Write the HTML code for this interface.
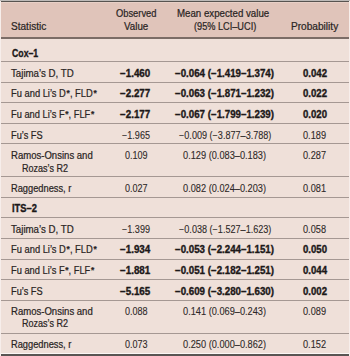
<!DOCTYPE html>
<html><head><meta charset="utf-8">
<style>
html,body{margin:0;padding:0;}
body{width:350px;height:356px;background:#fff;position:relative;overflow:hidden;font-family:"Liberation Sans",sans-serif;}
.a{position:absolute;}
.s{font-size:9px;font-weight:bold;position:relative;top:-1px;margin-left:0.8px;}
.hl{position:absolute;left:1px;width:348px;height:1px;background:#a59893;}
.t{position:absolute;font-size:10px;line-height:12px;white-space:nowrap;transform-origin:0 0;color:#2a2524;-webkit-text-stroke:0.22px #2a2524;}
.n{color:#2e2928;-webkit-text-stroke:0.1px #2e2928;}
.b{font-weight:bold;color:#1c1818;-webkit-text-stroke:0.35px #1c1818;}
</style></head><body>
<div class="a" style="left:0;top:0;width:350px;height:356px;background:#f7eeeb"></div>
<div class="a" style="left:0;top:0;width:350px;height:1px;background:#bdbab8"></div>
<div class="a" style="left:1px;top:1px;width:348px;height:1px;background:#575350"></div>
<div class="a" style="left:1px;top:2px;width:348px;height:35px;background:#e0c4ba"></div>
<div class="a" style="left:1px;top:2px;width:348px;height:1px;background:#e8d0c7"></div>
<div class="a" style="left:1px;top:37px;width:348px;height:2px;background:#7b6c66"></div>
<div class="a" style="left:1px;top:39px;width:348px;height:314px;background:#efe0d9"></div>
<div class="a" style="left:1px;top:353px;width:348px;height:1px;background:#fbf7f5"></div>
<div class="a" style="left:1px;top:354px;width:348px;height:2px;background:#595553"></div>
<div class="hl" style="top:61px"></div>
<div class="hl" style="top:82px"></div>
<div class="hl" style="top:102px"></div>
<div class="hl" style="top:123px"></div>
<div class="hl" style="top:143px"></div>
<div class="hl" style="top:176px"></div>
<div class="hl" style="top:197px"></div>
<div class="hl" style="top:217px"></div>
<div class="hl" style="top:238px"></div>
<div class="hl" style="top:259px"></div>
<div class="hl" style="top:279px"></div>
<div class="hl" style="top:300px"></div>
<div class="hl" style="top:333px"></div>
<div class="t" style="left:11.40px;top:21px;transform:scaleX(1.006)">Statistic</div>
<div class="t" style="left:115.90px;top:8px;transform:scaleX(0.933)">Observed</div>
<div class="t" style="left:123.60px;top:21px;transform:scaleX(0.976)">Value</div>
<div class="t" style="left:177.03px;top:8px;transform:scaleX(0.970)">Mean expected value</div>
<div class="t" style="left:194.00px;top:21px;transform:scaleX(0.918)">(95% LCI–UCI)</div>
<div class="t" style="left:290.89px;top:21px;transform:scaleX(1.011)">Probability</div>
<div class="t b" style="left:11.90px;top:48px;transform:scaleX(0.873)">Cox–1</div>
<div class="t b" style="left:11.90px;top:203px;transform:scaleX(0.931)">ITS–2</div>
<div class="t" style="left:11.30px;top:68px;transform:scaleX(0.969)">Tajima’s D, TD</div>
<div class="t b" style="left:120.30px;top:68px;transform:scaleX(0.981)">−1.460</div>
<div class="t b" style="left:175.10px;top:68px;transform:scaleX(0.973)">−0.064 (−1.419–1.374)</div>
<div class="t b" style="left:302.90px;top:68px;transform:scaleX(0.960)">0.042</div>
<div class="t" style="left:10.97px;top:88px;transform:scaleX(0.934)">Fu and Li’s D<span class=s>*</span>, FLD<span class=s>*</span></div>
<div class="t b" style="left:120.30px;top:88px;transform:scaleX(0.981)">−2.277</div>
<div class="t b" style="left:175.10px;top:88px;transform:scaleX(0.973)">−0.063 (−1.871–1.232)</div>
<div class="t b" style="left:302.90px;top:88px;transform:scaleX(0.960)">0.022</div>
<div class="t" style="left:10.97px;top:109px;transform:scaleX(0.930)">Fu and Li’s F<span class=s>*</span>, FLF<span class=s>*</span></div>
<div class="t b" style="left:120.30px;top:109px;transform:scaleX(0.981)">−2.177</div>
<div class="t b" style="left:175.10px;top:109px;transform:scaleX(0.973)">−0.067 (−1.799–1.239)</div>
<div class="t b" style="left:302.90px;top:109px;transform:scaleX(0.960)">0.020</div>
<div class="t" style="left:10.98px;top:130px;transform:scaleX(0.921)">Fu’s FS</div>
<div class="t n" style="left:121.70px;top:130px;transform:scaleX(0.906)">−1.965</div>
<div class="t n" style="left:179.15px;top:130px;transform:scaleX(0.908)">−0.009 (−3.877–3.788)</div>
<div class="t n" style="left:303.40px;top:130px;transform:scaleX(0.920)">0.189</div>
<div class="t" style="left:11.05px;top:150px;transform:scaleX(0.955)">Ramos-Onsins and</div>
<div class="t" style="left:21.90px;top:163px;transform:scaleX(0.902)">Rozas’s R2</div>
<div class="t n" style="left:124.70px;top:150px;transform:scaleX(0.904)">0.109</div>
<div class="t n" style="left:183.30px;top:150px;transform:scaleX(0.922)">0.129 (0.083–0.183)</div>
<div class="t n" style="left:303.40px;top:150px;transform:scaleX(0.920)">0.287</div>
<div class="t" style="left:10.97px;top:183px;transform:scaleX(0.928)">Raggedness, r</div>
<div class="t n" style="left:124.70px;top:183px;transform:scaleX(0.904)">0.027</div>
<div class="t n" style="left:183.30px;top:183px;transform:scaleX(0.922)">0.082 (0.024–0.203)</div>
<div class="t n" style="left:303.40px;top:183px;transform:scaleX(0.920)">0.081</div>
<div class="t" style="left:11.30px;top:224px;transform:scaleX(0.969)">Tajima’s D, TD</div>
<div class="t n" style="left:121.70px;top:224px;transform:scaleX(0.906)">−1.399</div>
<div class="t n" style="left:179.15px;top:224px;transform:scaleX(0.908)">−0.038 (−1.527–1.623)</div>
<div class="t n" style="left:303.40px;top:224px;transform:scaleX(0.920)">0.058</div>
<div class="t" style="left:10.97px;top:244px;transform:scaleX(0.934)">Fu and Li’s D<span class=s>*</span>, FLD<span class=s>*</span></div>
<div class="t b" style="left:120.30px;top:244px;transform:scaleX(0.981)">−1.934</div>
<div class="t b" style="left:175.10px;top:244px;transform:scaleX(0.973)">−0.053 (−2.244–1.151)</div>
<div class="t b" style="left:302.90px;top:244px;transform:scaleX(0.960)">0.050</div>
<div class="t" style="left:10.97px;top:265px;transform:scaleX(0.930)">Fu and Li’s F<span class=s>*</span>, FLF<span class=s>*</span></div>
<div class="t b" style="left:120.30px;top:265px;transform:scaleX(0.981)">−1.881</div>
<div class="t b" style="left:175.10px;top:265px;transform:scaleX(0.973)">−0.051 (−2.182–1.251)</div>
<div class="t b" style="left:302.90px;top:265px;transform:scaleX(0.960)">0.044</div>
<div class="t" style="left:10.98px;top:286px;transform:scaleX(0.921)">Fu’s FS</div>
<div class="t b" style="left:120.30px;top:286px;transform:scaleX(0.981)">−5.165</div>
<div class="t b" style="left:175.10px;top:286px;transform:scaleX(0.973)">−0.609 (−3.280–1.630)</div>
<div class="t b" style="left:302.90px;top:286px;transform:scaleX(0.960)">0.002</div>
<div class="t" style="left:11.05px;top:306px;transform:scaleX(0.955)">Ramos-Onsins and</div>
<div class="t" style="left:21.90px;top:318px;transform:scaleX(0.902)">Rozas’s R2</div>
<div class="t n" style="left:124.70px;top:306px;transform:scaleX(0.904)">0.088</div>
<div class="t n" style="left:183.30px;top:306px;transform:scaleX(0.922)">0.141 (0.069–0.243)</div>
<div class="t n" style="left:303.40px;top:306px;transform:scaleX(0.920)">0.089</div>
<div class="t" style="left:10.97px;top:339px;transform:scaleX(0.928)">Raggedness, r</div>
<div class="t n" style="left:124.70px;top:339px;transform:scaleX(0.904)">0.073</div>
<div class="t n" style="left:183.30px;top:339px;transform:scaleX(0.922)">0.250 (0.000–0.862)</div>
<div class="t n" style="left:303.40px;top:339px;transform:scaleX(0.920)">0.152</div>
</body></html>
